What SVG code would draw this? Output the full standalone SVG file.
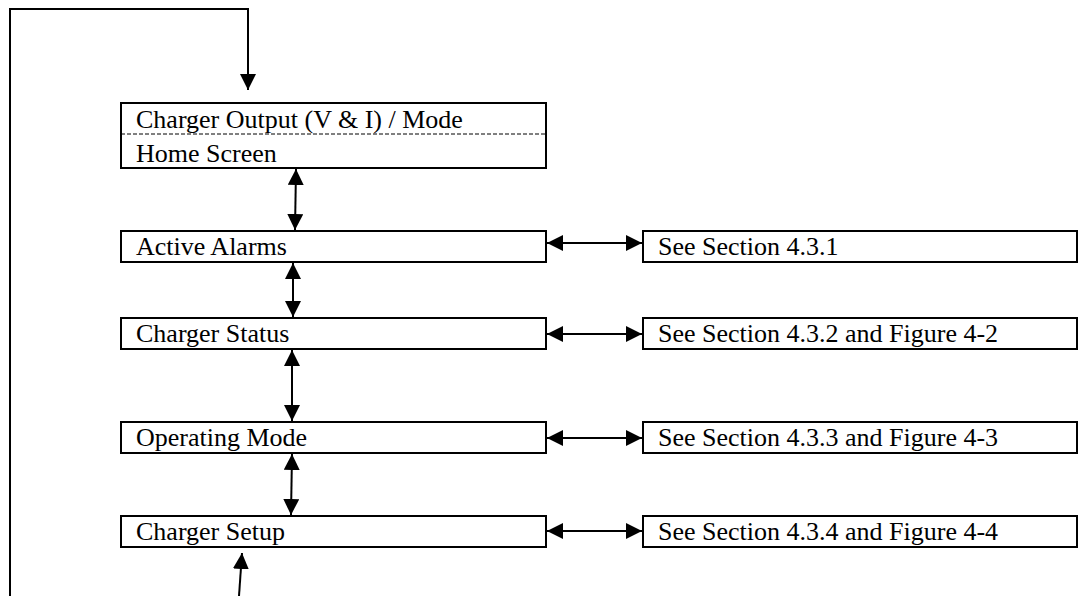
<svg xmlns="http://www.w3.org/2000/svg" width="1082" height="596" viewBox="0 0 1082 596">
<style>
.box{fill:#fff;stroke:#000;stroke-width:2}
.t{font-family:"Liberation Serif","Times New Roman",serif;font-size:26px;fill:#000}
.ln{stroke:#000;stroke-width:2;fill:none}
</style>
<defs>
<marker id="ahb" viewBox="0 0 10 10" refX="10" refY="5" markerWidth="16" markerHeight="16" markerUnits="userSpaceOnUse" orient="auto-start-reverse"><path d="M0,0L10,5L0,10z" fill="#000"/></marker>
</defs>
<rect width="1082" height="596" fill="#fff"/>
<g id="home">
<rect class="box" x="121" y="103" width="425" height="65"/>
<line x1="121" y1="134" x2="546" y2="134" stroke="#000" stroke-width="1" stroke-dasharray="4,2"/>
<text class="t" x="136" y="128">Charger Output (V &amp; I) / Mode</text>
<text class="t" x="136" y="162">Home Screen</text>
</g>
<g id="alarms">
<rect class="box" x="121" y="231" width="425" height="31"/>
<text class="t" x="136" y="255">Active Alarms</text>
</g>
<g id="alarms-ref">
<rect class="box" x="643" y="231" width="434" height="31"/>
<text class="t" x="658" y="255">See Section 4.3.1</text>
</g>
<g id="status">
<rect class="box" x="121" y="318" width="425" height="31"/>
<text class="t" x="136" y="342">Charger Status</text>
</g>
<g id="status-ref">
<rect class="box" x="643" y="318" width="434" height="31"/>
<text class="t" x="658" y="342">See Section 4.3.2 and Figure 4-2</text>
</g>
<g id="mode">
<rect class="box" x="121" y="422" width="425" height="31"/>
<text class="t" x="136" y="446">Operating Mode</text>
</g>
<g id="mode-ref">
<rect class="box" x="643" y="422" width="434" height="31"/>
<text class="t" x="658" y="446">See Section 4.3.3 and Figure 4-3</text>
</g>
<g id="setup">
<rect class="box" x="121" y="516" width="425" height="31"/>
<text class="t" x="136" y="540">Charger Setup</text>
</g>
<g id="setup-ref">
<rect class="box" x="643" y="516" width="434" height="31"/>
<text class="t" x="658" y="540">See Section 4.3.4 and Figure 4-4</text>
</g>
<g id="connectors">
<polyline class="ln" points="10,596 10,9 248,9 248,90" marker-end="url(#ahb)"/>
<line class="ln" x1="296" y1="169" x2="295" y2="230" marker-start="url(#ahb)" marker-end="url(#ahb)"/>
<line class="ln" x1="293" y1="263" x2="293" y2="317" marker-start="url(#ahb)" marker-end="url(#ahb)"/>
<line class="ln" x1="292" y1="350" x2="292" y2="421" marker-start="url(#ahb)" marker-end="url(#ahb)"/>
<line class="ln" x1="292" y1="454" x2="291" y2="515" marker-start="url(#ahb)" marker-end="url(#ahb)"/>
<line class="ln" x1="239" y1="596" x2="242" y2="553" marker-end="url(#ahb)"/>
<line class="ln" x1="547" y1="243" x2="642" y2="243" marker-start="url(#ahb)" marker-end="url(#ahb)"/>
<line class="ln" x1="547" y1="334" x2="642" y2="334" marker-start="url(#ahb)" marker-end="url(#ahb)"/>
<line class="ln" x1="547" y1="438" x2="642" y2="438" marker-start="url(#ahb)" marker-end="url(#ahb)"/>
<line class="ln" x1="547" y1="531" x2="642" y2="531" marker-start="url(#ahb)" marker-end="url(#ahb)"/>
</g>
</svg>
